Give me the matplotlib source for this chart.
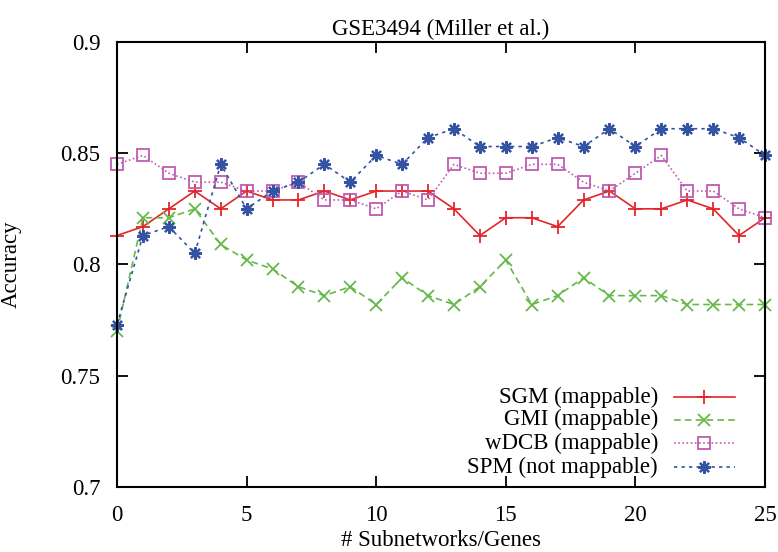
import matplotlib.pyplot as plt
from matplotlib.lines import Line2D

# Accuracy vs number of subnetworks/genes
n_feats = list(range(26))
sgm = [0.813, 0.817, 0.825, 0.833, 0.825, 0.833, 0.829, 0.829, 0.833, 0.829,
       0.833, 0.833, 0.833, 0.825, 0.813, 0.821, 0.821, 0.817, 0.829, 0.833,
       0.825, 0.825, 0.829, 0.825, 0.813, 0.821]
gmi = [0.770, 0.821, 0.821, 0.825, 0.809, 0.802, 0.798, 0.790, 0.786, 0.790,
       0.782, 0.794, 0.786, 0.782, 0.790, 0.802, 0.782, 0.786, 0.794, 0.786,
       0.786, 0.786, 0.782, 0.782, 0.782, 0.782]
wdcb = [0.845, 0.849, 0.841, 0.837, 0.837, 0.833, 0.833, 0.837, 0.829, 0.829,
        0.825, 0.833, 0.829, 0.845, 0.841, 0.841, 0.845, 0.845, 0.837, 0.833,
        0.841, 0.849, 0.833, 0.833, 0.825, 0.821]
spm = [0.773, 0.813, 0.817, 0.805, 0.845, 0.825, 0.833, 0.837, 0.845, 0.837,
       0.849, 0.845, 0.857, 0.861, 0.853, 0.853, 0.853, 0.857, 0.853, 0.861,
       0.853, 0.861, 0.861, 0.861, 0.857, 0.849]

labels = ["SGM (mappable)", "GMI (mappable)", "wDCB (mappable)", "SPM (not mappable)"]
x_ticks = [0, 5, 10, 15, 20, 25]
y_ticks = [0.7, 0.75, 0.8, 0.85, 0.9]
y_ticklabels = ["0.7", "0.75", "0.8", "0.85", "0.9"]

plt.rcParams['font.family'] = ['Liberation Serif', 'DejaVu Serif']
FS = 16.5

# gnuplot-ish styles: colour, linestyle, marker
styles = [
    dict(color='#e3262b', ls='-', marker='+', ms=10, mew=1.3, mfc='none'),
    dict(color='#66b84a', ls=(0, (4, 2.5)), marker='x', ms=8, mew=1.3, mfc='none'),
    dict(color='#bf5cb0', ls=(0, (1, 1.5)), marker='s', ms=8, mew=1.3, mfc='none'),
    dict(color='#3453a3', ls=(0, (2, 2.5)), marker=(8, 2, 0), ms=9, mew=1.6, mfc='none'),
]

fig = plt.figure(figsize=(7.78, 5.52), dpi=100)
ax = fig.add_axes([0.1504, 0.1178, 0.8329, 0.8062])

for ys, st in zip([sgm, gmi, wdcb, spm], styles):
    ax.plot(n_feats, ys, lw=1.2, clip_on=False, **st)

ax.set_xlim(0, 25)
ax.set_ylim(0.7, 0.9)
ax.set_xticks(x_ticks)
ax.set_yticks(y_ticks)
ax.set_yticklabels(y_ticklabels)
ax.tick_params(direction='in', length=8, width=1.3, top=True, right=True,
               labelsize=FS)
ax.tick_params(axis='x', pad=13)
ax.tick_params(axis='y', pad=12)
for s in ax.spines.values():
    s.set_linewidth(1.5)

ax.set_xlabel("# Subnetworks/Genes", fontsize=FS)
ax.xaxis.set_label_coords(0.5, -0.097)
ax.set_ylabel("Accuracy", fontsize=FS)
ax.yaxis.set_label_coords(-0.147, 0.5)
ax.set_title("GSE3494 (Miller et al.)", fontsize=FS, pad=5)

# gnuplot-style key: right aligned text, sample line to the right
key_y = [0.202, 0.151, 0.099, 0.045]
for lab, st, ky in zip(labels, styles, key_y):
    ax.text(0.835, ky, lab, transform=ax.transAxes, ha='right', va='center',
            fontsize=FS)
    ax.add_line(Line2D([0.859, 0.906, 0.954], [ky, ky, ky], transform=ax.transAxes,
                       lw=1.2, markevery=[1], **st))

fig.savefig("out.png", dpi=100)
